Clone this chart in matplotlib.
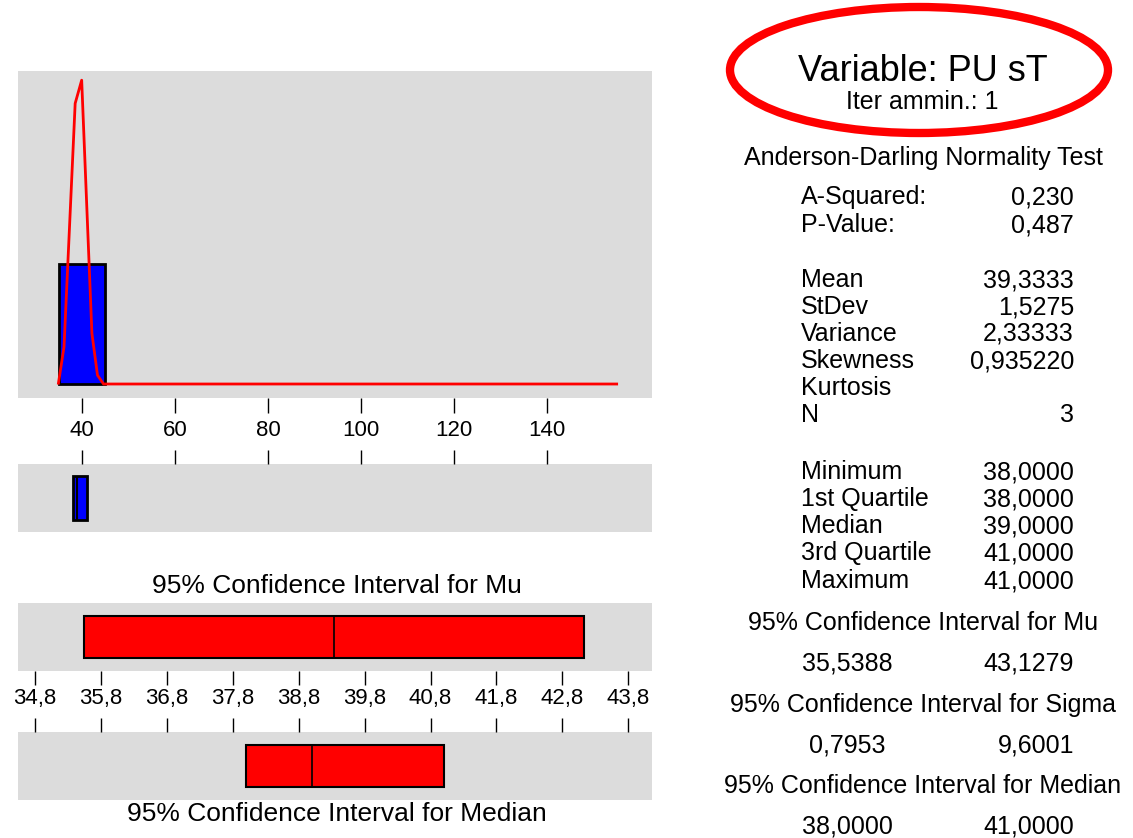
import matplotlib.pyplot as plt
from matplotlib.patches import Ellipse

plt.rcParams['font.family'] = ['Liberation Sans', 'DejaVu Sans']

W, H = 1133, 838

# raw data and histogram
values = [38, 39, 41]
bin_edges = [35, 45]
# fitted normal curve
curve_x = [34.9, 36.1, 38.5, 39.9, 42.1, 43.3, 44.6, 155.0]
curve_y = [0.02, 0.93, 7.02, 7.6, 1.27, 0.22, 0.0, 0.0]
hist_ticks = [40, 60, 80, 100, 120, 140]

# boxplot: q1, median, q3
quartiles = [38.0, 39.0, 41.0]

# confidence intervals: low, centre, high
mu_ci = [35.5388, 39.3333, 43.1279]
median_ci = [38.0, 39.0, 41.0]
ci_ticks = [34.8, 35.8, 36.8, 37.8, 38.8, 39.8, 40.8, 41.8, 42.8, 43.8]
ci_tick_labels = ['34,8', '35,8', '36,8', '37,8', '38,8', '39,8', '40,8', '41,8', '42,8', '43,8']

stat_names = ['A-Squared:', 'P-Value:', 'Mean', 'StDev', 'Variance', 'Skewness', 'Kurtosis', 'N',
              'Minimum', '1st Quartile', 'Median', '3rd Quartile', 'Maximum']
stat_values = ['0,230', '0,487', '39,3333', '1,5275', '2,33333', '0,935220', '', '3',
               '38,0000', '38,0000', '39,0000', '41,0000', '41,0000']
stat_rows = [204, 232, 287, 314, 341, 368, 395, 422, 479, 506, 533, 560, 588]

ci_titles = ['95% Confidence Interval for Mu', '95% Confidence Interval for Sigma',
             '95% Confidence Interval for Median']
ci_low = ['35,5388', '0,7953', '38,0000']
ci_high = ['43,1279', '9,6001', '41,0000']
ci_title_rows = [630, 712, 793]
ci_value_rows = [670, 752, 833]

GRAY = '#DCDCDC'


def fx(px):
    return px / W


def fy(py):
    return 1 - py / H


def panel(top, bottom):
    ax = fig.add_axes([fx(18), fy(bottom), fx(652) - fx(18), (bottom - top) / H])
    ax.set_facecolor(GRAY)
    for s in ax.spines.values():
        s.set_visible(False)
    return ax


def ci_box(ax, stats, color, width, edge_lw, med_lw):
    ax.bxp([{'q1': stats[0], 'med': stats[1], 'q3': stats[2],
             'whislo': stats[0], 'whishi': stats[2], 'fliers': []}],
           positions=[0.5], widths=width, orientation='horizontal', patch_artist=True,
           showcaps=False, showfliers=False,
           boxprops=dict(facecolor=color, edgecolor='black', linewidth=edge_lw),
           medianprops=dict(color='black', linewidth=med_lw),
           whiskerprops=dict(linewidth=0))
    ax.set_ylim(0, 1)
    ax.set_yticks([])


fig = plt.figure(figsize=(W / 100, H / 100), dpi=100)

# histogram with normal fit
ax1 = panel(71, 398)
ax1.hist(values, bins=bin_edges, color='blue', edgecolor='black', linewidth=2)
ax1.plot(curve_x, curve_y, color='red', lw=2)
ax1.set_xlim(26.2, 162.6)
ax1.set_ylim(-0.35, 7.83)
ax1.set_yticks([])
ax1.set_xticks(hist_ticks)
ax1.tick_params(axis='x', direction='out', length=11, width=1, labelsize=16, pad=5)

# boxplot
ax2 = panel(464, 532)
ci_box(ax2, quartiles, 'blue', 0.66, 2, 1.5)
ax2.set_xlim(26.2, 162.6)
ax2.set_xticks(hist_ticks)
ax2.tick_params(axis='x', bottom=False, labelbottom=False, top=True, direction='out',
                length=10, width=1)

# confidence interval for mu
ax3 = panel(603, 671)
ci_box(ax3, mu_ci, 'red', 0.63, 1.5, 1.2)
ax3.set_xlim(34.54, 44.16)
ax3.set_xticks(ci_ticks)
ax3.set_xticklabels(ci_tick_labels)
ax3.tick_params(axis='x', direction='out', length=10, width=1, labelsize=16, pad=2)

# confidence interval for median
ax4 = panel(732, 800)
ci_box(ax4, median_ci, 'red', 0.63, 1.5, 1.2)
ax4.set_xlim(34.54, 44.16)
ax4.set_xticks(ci_ticks)
ax4.tick_params(axis='x', bottom=False, labelbottom=False, top=True, direction='out',
                length=10, width=1)

fig.text(fx(337), fy(593), '95% Confidence Interval for Mu', ha='center', va='baseline', fontsize=19)
fig.text(fx(337), fy(821), '95% Confidence Interval for Median', ha='center', va='baseline', fontsize=19)

# right-hand summary
fig.text(fx(923), fy(81), 'Variable: PU sT', ha='center', va='baseline', fontsize=26)
fig.text(fx(922), fy(109), 'Iter ammin.: 1', ha='center', va='baseline', fontsize=18)
fig.patches.append(Ellipse((fx(919), fy(70)), width=378 / W, height=126 / H,
                           transform=fig.transFigure, fill=False, edgecolor='red', lw=6))

fig.text(fx(923), fy(165), 'Anderson-Darling Normality Test', ha='center', va='baseline', fontsize=18)
for name, val, row in zip(stat_names, stat_values, stat_rows):
    fig.text(fx(801), fy(row), name, ha='left', va='baseline', fontsize=18)
    fig.text(fx(1074), fy(row), val, ha='right', va='baseline', fontsize=18)

for title, lo, hi, tr, vr in zip(ci_titles, ci_low, ci_high, ci_title_rows, ci_value_rows):
    fig.text(fx(923), fy(tr), title, ha='center', va='baseline', fontsize=18)
    fig.text(fx(847), fy(vr), lo, ha='center', va='baseline', fontsize=18)
    fig.text(fx(1074), fy(vr), hi, ha='right', va='baseline', fontsize=18)

fig.savefig('out.png', dpi=100)
